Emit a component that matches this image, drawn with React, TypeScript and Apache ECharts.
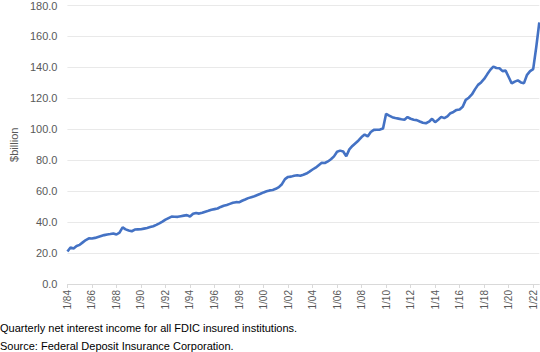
import React, { useEffect, useRef } from "react";
import * as echarts from "echarts";

// Quarterly net interest income, $billion, Q1 1984 .. Q3 2022
const startYear = 1984;
const values: number[] = [
  21.0, 23.6, 22.9, 24.6, 25.3, 26.9, 28.4, 29.5, 29.4, 29.8,
  30.4, 31.0, 31.6, 32.0, 32.3, 32.7, 32.0, 33.2, 36.6, 35.3,
  34.6, 34.1, 35.2, 35.3, 35.4, 35.8, 36.2, 36.8, 37.3, 38.2,
  39.2, 40.3, 41.6, 42.6, 43.6, 43.5, 43.4, 43.8, 44.2, 44.5,
  43.6, 45.4, 45.9, 45.5, 46.0, 46.7, 47.3, 48.0, 48.4, 48.8,
  49.8, 50.6, 51.1, 51.8, 52.5, 52.9, 52.8, 53.8, 54.6, 55.5,
  56.1, 56.7, 57.5, 58.3, 59.2, 59.9, 60.5, 60.8, 61.5, 62.6,
  64.5, 67.8, 69.2, 69.4, 70.0, 70.3, 70.0, 70.6, 71.4, 72.6,
  74.0, 75.2, 76.8, 78.4, 78.2, 79.2, 80.6, 82.5, 85.5, 86.2,
  85.6, 82.6, 87.0, 89.2, 91.0, 92.8, 95.0, 96.6, 95.4, 98.2,
  99.6, 99.7, 99.8, 100.5, 110.0, 108.8, 107.8, 107.3, 106.9, 106.5,
  106.2, 107.9, 106.8, 106.2, 105.9, 105.0, 104.2, 103.9, 104.9, 106.8,
  104.6, 106.2, 108.0, 107.2, 108.3, 110.4, 111.2, 112.5, 112.8, 114.5,
  119.0, 120.4, 122.5, 125.8, 128.7, 130.3, 132.5, 135.5, 138.4, 140.5,
  139.6, 139.4, 137.6, 137.9, 133.8, 129.6, 130.8, 131.6, 130.3, 129.8,
  135.2, 137.6, 138.9, 153.0, 169.0,
];
const quarterMonths = ["1", "4", "7", "10"];
const categories: string[] = values.map((_, i) => {
  const y = startYear + Math.floor(i / 4);
  return quarterMonths[i % 4] + "/" + String(y % 100).padStart(2, "0");
});
const yTicks = { min: 0, max: 180, interval: 20 };
const axisName = "$billion";
const notes = [
  "Quarterly net interest income for all FDIC insured institutions.",
  "Source: Federal Deposit Insurance Corporation.",
];

export default function App() {
  const ref = useRef<HTMLDivElement>(null);
  useEffect(() => {
    if (!ref.current) return;
    const chart = echarts.init(ref.current, undefined, { renderer: "svg" });
    const font = "Liberation Sans, Arial, sans-serif";
    chart.setOption({
      animation: false,
      textStyle: { fontFamily: font },
      grid: { left: 58.5, right: 0.7, top: 4.7, bottom: 68, containLabel: false },
      xAxis: {
        type: "category",
        data: categories,
        boundaryGap: false,
        axisLine: { lineStyle: { color: "#d9d9d9", width: 1 } },
        axisTick: { interval: 7, length: 4, lineStyle: { color: "#d9d9d9" } },
        axisLabel: {
          interval: 7,
          rotate: 90,
          margin: 6,
          fontSize: 10,
          color: "#595959",
          fontFamily: font,
        },
        splitLine: { show: false },
      },
      yAxis: {
        type: "value",
        min: yTicks.min,
        max: yTicks.max,
        interval: yTicks.interval,
        name: axisName,
        nameLocation: "middle",
        nameRotate: 90,
        nameGap: 42,
        nameTextStyle: { fontSize: 11, color: "#595959", fontFamily: font },
        axisLine: { show: false },
        axisTick: { show: false },
        axisLabel: {
          margin: 10,
          fontSize: 11,
          color: "#595959",
          fontFamily: font,
          formatter: (v: number) => v.toFixed(1),
        },
        splitLine: { lineStyle: { color: "#e9e9e9", width: 1 } },
      },
      series: [
        {
          type: "line",
          data: values,
          showSymbol: false,
          symbol: "none",
          lineStyle: { color: "#4472C4", width: 2.6 },
          itemStyle: { color: "#4472C4" },
        },
      ],
      graphic: notes.map((t, i) => ({
        type: "text",
        left: 0,
        top: 322 + i * 18,
        style: { text: t, fontSize: 11, fill: "#000000", fontFamily: font },
      })),
    });
    return () => chart.dispose();
  }, []);
  return (
    <div
      ref={ref}
      style={{ position: "fixed", left: 0, top: 0, width: 540, height: 352, background: "#ffffff" }}
    />
  );
}
